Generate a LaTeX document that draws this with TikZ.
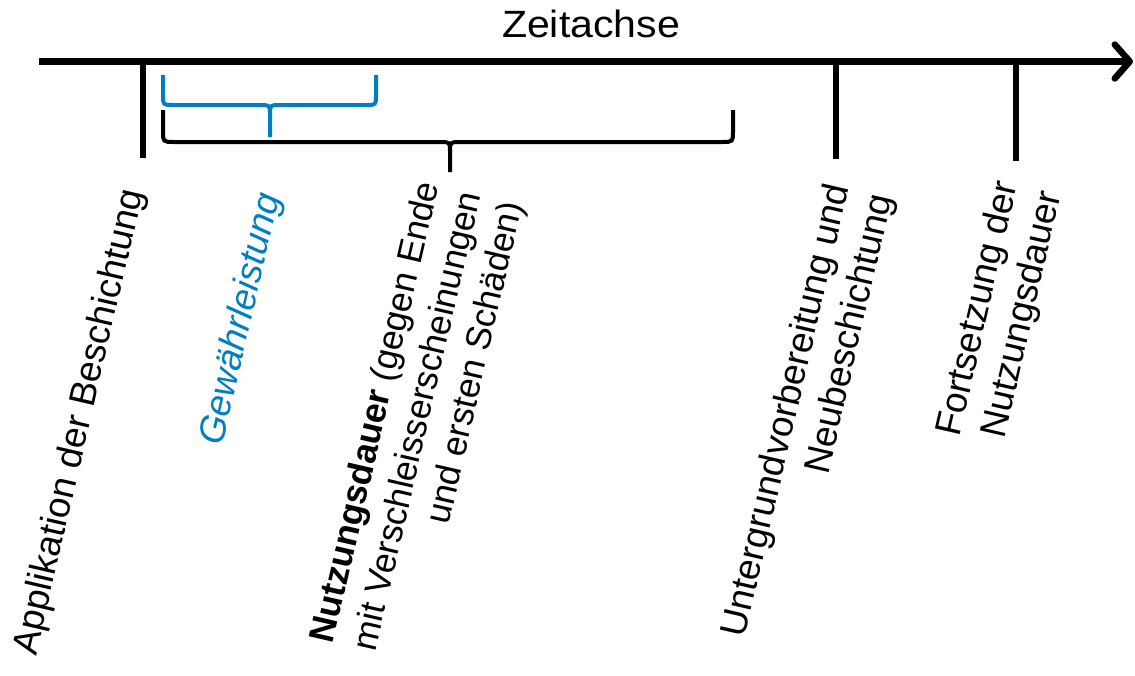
\documentclass[tikz,border=0pt]{standalone}
\usepackage{fontspec}
\setmainfont{Liberation Sans}
\usetikzlibrary{arrows.meta}
\definecolor{wblue}{RGB}{0,126,196}
\tikzset{
  axisline/.style={line width=6.5pt, -{Straight Barb[length=15pt,width=34pt,round]}},
  tickline/.style={line width=6pt},
  bracepath/.style={line width=4pt, line join=round},
  lbl/.style={rotate=77, inner sep=0pt, font=\fontsize{37}{44.5}\selectfont},
}
\begin{document}
\begin{tikzpicture}[x=1pt,y=-1pt]
\useasboundingbox[fill=white] (0,0) rectangle (1135,675);
% title
\node[anchor=base, inner sep=0pt, xscale=1.08, font=\fontsize{38}{45}\selectfont] (title) at (591,37) {Zeitachse};
% axis
\coordinate (a0) at (39,61.5);
\coordinate (a1) at (1133,61.5);
\draw[axisline] (a0) -- (a1);
% ticks
\coordinate (t1a) at (143,61.5); \coordinate (t1b) at (143,158);
\coordinate (t2a) at (836,61.5); \coordinate (t2b) at (836,159);
\coordinate (t3a) at (1016,61.5); \coordinate (t3b) at (1016,161);
\draw[tickline] (t1a) -- (t1b);
\draw[tickline] (t2a) -- (t2b);
\draw[tickline] (t3a) -- (t3b);
% blue brace (Gewaehrleistung)
\coordinate (bl) at (163,75); \coordinate (br) at (376,75); \coordinate (bm) at (270,137);
\draw[bracepath, wblue] (bl) -- (163,95) .. controls (163,105) .. (173,105) -- (260,105)
  .. controls (270,105) .. (270,115) -- (bm);
\draw[bracepath, wblue] (br) -- (376,95) .. controls (376,105) .. (366,105) -- (280,105)
  .. controls (270,105) .. (270,115);
% black brace (Nutzungsdauer)
\coordinate (kl) at (163,110); \coordinate (kr) at (733,110); \coordinate (km) at (450,172);
\draw[bracepath] (kl) -- (163,131) .. controls (163,142) .. (174,142) -- (440,142)
  .. controls (450,142) .. (450,152) -- (km);
\draw[bracepath] (kr) -- (733,131) .. controls (733,142) .. (722,142) -- (460,142)
  .. controls (450,142) .. (450,152);
% labels
\node[lbl, anchor=base west] (app) at (36,657) {Applikation der Beschichtung};
\node[lbl, anchor=base west, text=wblue, font=\fontsize{37}{44.5}\selectfont\itshape] (gew) at (222,447) {Gewährleistung};
\node[lbl, align=right, anchor=north east, font=\fontsize{35.5}{43}\selectfont] (nutz) at (413.8,179.1)
  {\textbf{Nutzungsdauer} (gegen Ende\\mit Verschleisserscheinungen\\und ersten Schäden)};
\node[lbl, align=right, anchor=north east] (unt) at (822.8,181.1)
  {Untergrundvorbereitung und\\Neubeschichtung};
\node[lbl, align=right, anchor=north east] (fort) at (991.3,178.4)
  {Fortsetzung der\\Nutzungsdauer};
\end{tikzpicture}
\end{document}
